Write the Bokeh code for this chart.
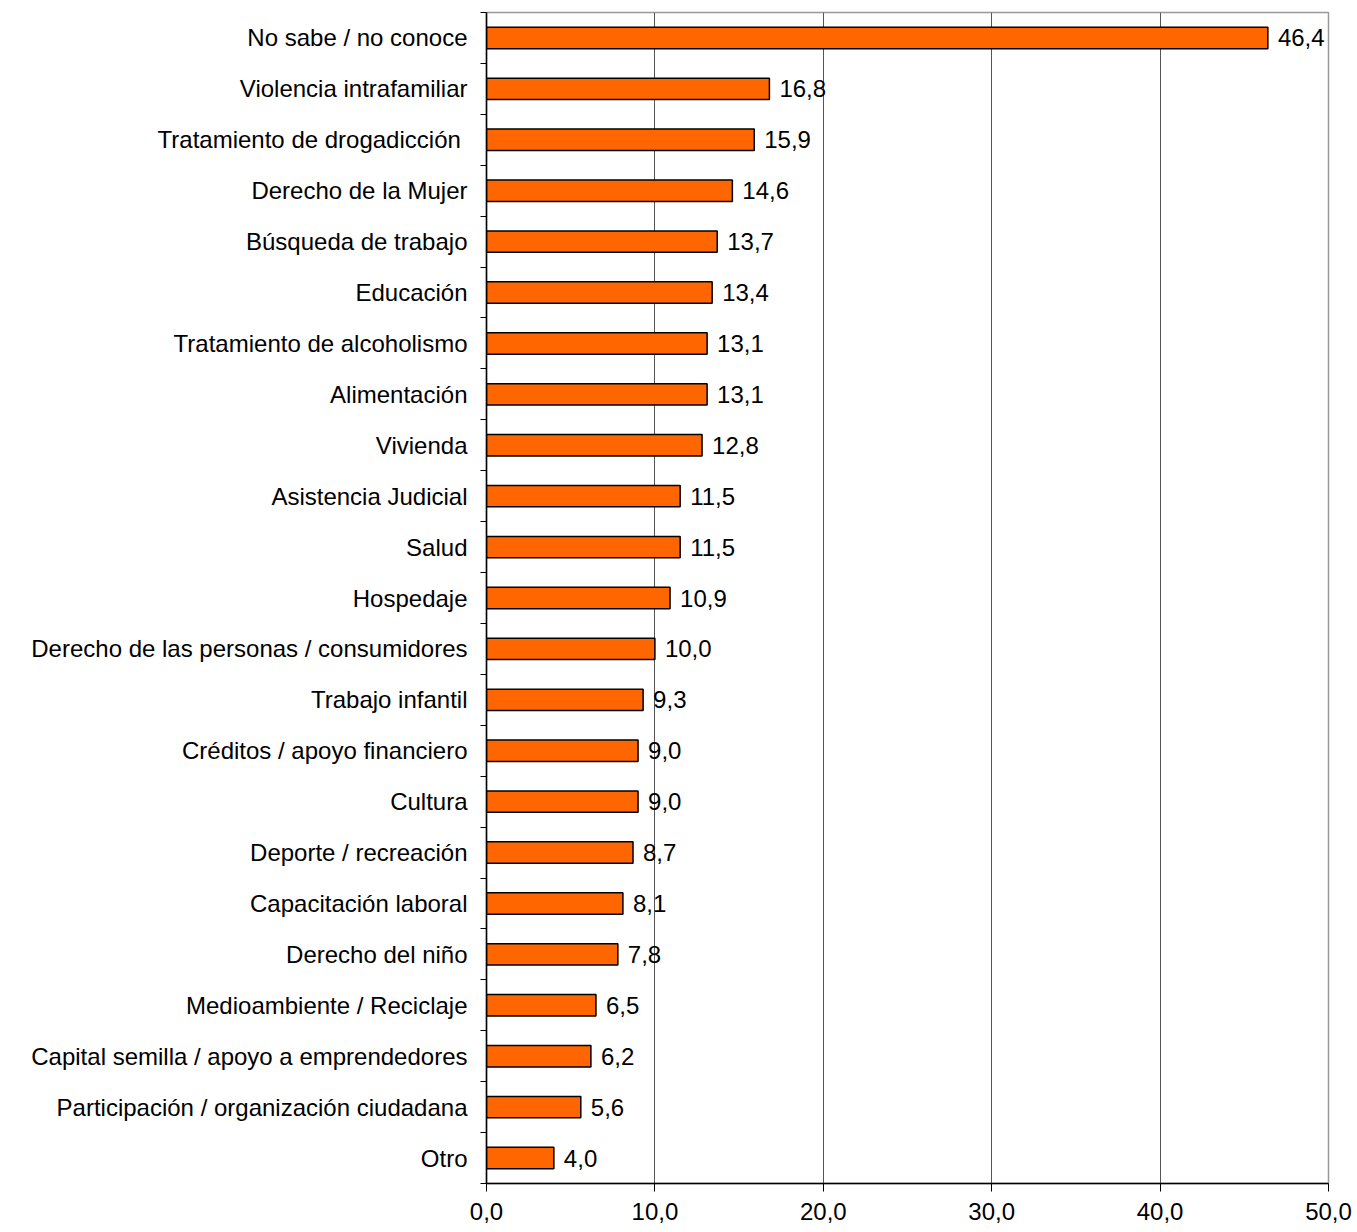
import numpy as np
from bokeh.plotting import figure
from bokeh.models import ColumnDataSource, FixedTicker, Range1d
from bokeh.core.properties import value
from bokeh.embed import file_html
from bokeh.resources import INLINE

categories = [
    "No sabe / no conoce", "Violencia intrafamiliar", "Tratamiento  de drogadicción",
    "Derecho de la Mujer", "Búsqueda de trabajo", "Educación",
    "Tratamiento de alcoholismo", "Alimentación", "Vivienda", "Asistencia Judicial",
    "Salud", "Hospedaje", "Derecho de las personas / consumidores", "Trabajo infantil",
    "Créditos / apoyo financiero", "Cultura", "Deporte / recreación",
    "Capacitación laboral", "Derecho del niño", "Medioambiente / Reciclaje",
    "Capital semilla / apoyo a emprendedores", "Participación / organización ciudadana",
    "Otro",
]
values = [46.4, 16.8, 15.9, 14.6, 13.7, 13.4, 13.1, 13.1, 12.8, 11.5, 11.5, 10.9,
          10.0, 9.3, 9.0, 9.0, 8.7, 8.1, 7.8, 6.5, 6.2, 5.6, 4.0]
x_ticks = [0, 10, 20, 30, 40, 50]

n = len(categories)
ypos = [n - i - 0.5 for i in range(n)]
labels = [f"{v:.1f}".replace(".", ",") for v in values]

src = ColumnDataSource(dict(y=ypos, v=values, lab=labels, cat=categories))

FONT = "Liberation Sans"
FS = "24px"

p = figure(width=1353, height=1232, output_backend="svg", toolbar_location=None,
           x_range=Range1d(0, 50), y_range=Range1d(0, n),
           min_border_left=486, min_border_right=25, min_border_top=12, min_border_bottom=49)
p.frame_width = 842
p.frame_height = 1171
p.background_fill_color = "white"
p.outline_line_color = "#999999"
p.outline_line_width = 1.5

# grid
p.xgrid.ticker = FixedTicker(ticks=x_ticks)
p.xgrid.grid_line_color = "#555555"
p.xgrid.grid_line_width = 1
p.ygrid.grid_line_color = None

p.hbar(y="y", right="v", left=0, height=0.42, source=src,
       fill_color="#FF6600", line_color="black", line_width=1.5)

p.text(x="v", y="y", text="lab", source=src, x_offset=10,
       text_baseline="middle", text_align="left",
       text_font=value(FONT), text_font_size=FS, text_color="black")

# x axis
xa = p.xaxis[0]
xa.ticker = FixedTicker(ticks=x_ticks)
xa.major_label_overrides = {t: f"{t:.1f}".replace(".", ",") for t in x_ticks}
xa.major_tick_out = 8
xa.major_tick_in = 0
xa.minor_tick_line_color = None
xa.axis_line_color = "black"
xa.axis_line_width = 1.5
xa.major_label_standoff = 11
xa.major_label_text_font = FONT
xa.major_label_text_font_size = FS
xa.major_label_text_color = "black"

# y axis: labels at centers, ticks at boundaries
ya = p.yaxis[0]
ya.ticker = FixedTicker(ticks=ypos, minor_ticks=list(range(n + 1)))
ya.major_label_overrides = {y: c for y, c in zip(ypos, categories)}
ya.major_tick_out = 0
ya.major_tick_in = 0
ya.minor_tick_out = 6
ya.minor_tick_in = 0
ya.minor_tick_line_color = "black"
ya.axis_line_color = "black"
ya.axis_line_width = 1.5
ya.major_label_standoff = 13
ya.major_label_text_font = FONT
ya.major_label_text_font_size = FS
ya.major_label_text_color = "black"

open("out.html", "w").write(file_html(p, INLINE))
